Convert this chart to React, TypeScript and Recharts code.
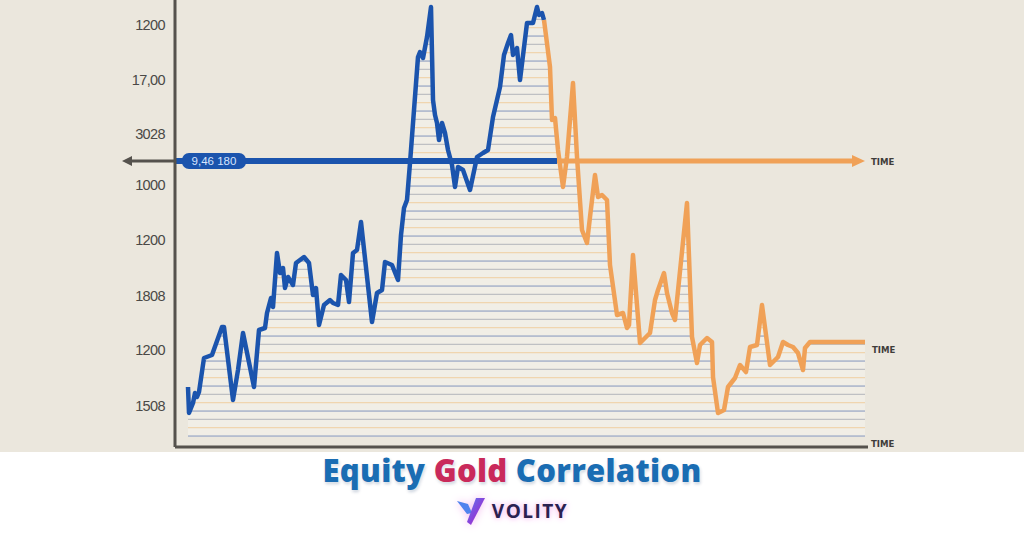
// @ts-nocheck
import React from 'react';
import { ComposedChart, Area, Line, XAxis, YAxis, ReferenceLine, ReferenceDot } from 'recharts';

// equity leg (blue) - time in days, value in index points
const equityDays = [13, 14, 18, 20, 22, 24, 29, 37, 47, 49, 58, 63, 68, 79, 84, 90, 92, 96, 98, 102, 105, 108, 110, 113, 118, 121, 129, 134, 138, 141, 144, 149, 155, 158, 163, 166, 171, 174, 178, 182, 186, 197, 202, 207, 210, 217, 223, 226, 229, 232, 235, 243, 245, 248, 252, 256, 258, 260, 262, 264, 267, 270, 273, 277, 280, 283, 288, 295, 302, 308, 313, 318, 325, 329, 333, 336, 338, 342, 345, 352, 358, 362, 364, 367, 369];
const equityVals = [60, 34, 44, 54, 50, 55, 89, 92, 120, 120, 47, 77, 114, 60, 117, 119, 134, 149, 140, 194, 174, 179, 159, 170, 162, 184, 190, 184, 152, 159, 122, 142, 147, 144, 142, 172, 167, 145, 194, 197, 225, 125, 154, 157, 185, 182, 167, 212, 239, 247, 284, 390, 395, 389, 410, 440, 347, 332, 324, 307, 324, 314, 297, 282, 260, 280, 277, 257, 290, 294, 297, 330, 360, 392, 404, 412, 392, 399, 367, 424, 424, 440, 432, 434, 427];

// gold leg (orange)
const goldDays = [375, 377, 380, 383, 388, 392, 398, 402, 407, 412, 415, 420, 423, 427, 432, 435, 442, 448, 452, 454, 458, 465, 475, 480, 483, 489, 492, 497, 500, 512, 517, 522, 525, 532, 537, 538, 543, 549, 553, 560, 565, 571, 575, 582, 587, 595, 603, 608, 613, 618, 623, 628, 630, 635, 690];
const goldVals = [380, 327, 329, 297, 260, 290, 364, 290, 217, 204, 230, 272, 250, 252, 247, 182, 132, 134, 119, 122, 192, 104, 114, 147, 157, 174, 154, 134, 127, 244, 110, 84, 102, 109, 105, 70, 34, 37, 60, 69, 82, 75, 100, 102, 142, 82, 90, 105, 102, 100, 94, 77, 99, 105, 105];

const yTicks = [422, 367, 313, 262, 207, 151, 97, 41];
const yLabels = ['1200', '17,00', '3028', '1000', '1200', '1808', '1200', '1508'];

const crossLevel = 286;
const crossStart = -53;
const crossSplit = 382;
const crossEnd = 690;
const badgeText = '9,46 180';

const BLUE = '#1b54ad';
const ORANGE = '#f0a157';
const AXIS = '#55524d';
const BG = '#ebe7dd';

const lastEq = equityDays.length - 1;
const data = [
  ...equityDays.map((t, i) => ({ t, all: equityVals[i], equity: equityVals[i], gold: i === lastEq ? equityVals[i] : null })),
  ...goldDays.map((t, i) => ({ t, all: goldVals[i], equity: null, gold: goldVals[i] })),
];

const timeStyle = { fontFamily: '"Liberation Sans Narrow", "DejaVu Sans Condensed", sans-serif', fontSize: 9.5, fontWeight: 700, fill: '#3f3d3a' };

const CrossLine = (props) => {
  const { x1, x2, y1 } = props;
  const px = (t) => x1 + ((t - crossStart) / (crossEnd - crossStart)) * (x2 - x1);
  const p0 = px(0);
  const ps = px(crossSplit);
  const y = y1;
  return (
    <g>
      <line x1={x1 + 8} y1={y} x2={p0} y2={y} stroke={AXIS} strokeWidth={3} />
      <polygon points={`${x1},${y} ${x1 + 10},${y - 5} ${x1 + 10},${y + 5}`} fill={AXIS} />
      <line x1={p0} y1={y} x2={ps} y2={y} stroke={BLUE} strokeWidth={6} />
      <line x1={ps} y1={y} x2={x2 - 10} y2={y} stroke={ORANGE} strokeWidth={5} />
      <polygon points={`${x2},${y} ${x2 - 13},${y - 6} ${x2 - 13},${y + 6}`} fill={ORANGE} />
      <rect x={p0 + 7} y={y - 8} width={64} height={16} rx={7} fill={BLUE} />
      <text x={p0 + 39} y={y + 4} textAnchor="middle" fontSize={11.5} fill="#d6e4ff" fontFamily="Liberation Sans, sans-serif">{badgeText}</text>
      <text x={x2 + 6} y={y + 4} {...timeStyle}>TIME</text>
    </g>
  );
};

const TimeTag = (dx, dy) => (p) => (
  <text x={p.cx + dx} y={p.cy + dy} {...timeStyle}>TIME</text>
);

const EquityGoldChart = () => (
  <ComposedChart width={1024} height={452} data={data} margin={{ top: 0, right: 156, bottom: 4, left: 0 }}>
    <defs>
      <pattern id="stripes" patternUnits="userSpaceOnUse" width={10} height={25}>
        <rect x={0} y={0} width={10} height={25} fill="#f1eee6" />
        <rect x={0} y={2.2} width={10} height={1} fill="#f0cfa2" />
        <rect x={0} y={10.5} width={10} height={1.1} fill="#8e9ec0" />
        <rect x={0} y={18.8} width={10} height={1} fill="#b3b5bb" />
      </pattern>
    </defs>
    <XAxis type="number" dataKey="t" domain={[0, 693]} ticks={[]} tick={false} tickLine={false} height={1} axisLine={{ stroke: AXIS, strokeWidth: 3 }} allowDataOverflow />
    <YAxis
      type="number"
      domain={[0, 447]}
      ticks={yTicks}
      width={175}
      tickSize={0}
      tickMargin={10}
      tickLine={false}
      axisLine={{ stroke: AXIS, strokeWidth: 3 }}
      tick={{ fill: '#4a4946', fontSize: 14.5, fontFamily: 'Liberation Sans, sans-serif', letterSpacing: -0.6 }}
      tickFormatter={(v, i) => yLabels[i]}
      allowDataOverflow
    />
    <Area type="linear" dataKey="all" baseValue={10} fill="url(#stripes)" fillOpacity={1} stroke="none" isAnimationActive={false} />
    <ReferenceLine segment={[{ x: crossStart, y: crossLevel }, { x: crossEnd, y: crossLevel }]} ifOverflow="visible" shape={CrossLine} />
    <Line type="linear" dataKey="equity" stroke={BLUE} strokeWidth={4.5} dot={false} strokeLinejoin="round" isAnimationActive={false} />
    <Line type="linear" dataKey="gold" stroke={ORANGE} strokeWidth={4.5} dot={false} strokeLinejoin="round" isAnimationActive={false} />
    <ReferenceDot x={690} y={98} r={0} ifOverflow="visible" shape={TimeTag(7, 4)} />
    <ReferenceDot x={693} y={0} r={0} ifOverflow="visible" shape={TimeTag(3, 0)} />
  </ComposedChart>
);

const Logo = () => (
  <svg width={30} height={32} viewBox="0 0 30 32" style={{ filter: 'drop-shadow(0 0 4px #f4b9ef)' }}>
    <defs>
      <linearGradient id="lg" x1="0" y1="0" x2="1" y2="1">
        <stop offset="0%" stopColor="#5b7cf0" />
        <stop offset="55%" stopColor="#8b3fd9" />
        <stop offset="100%" stopColor="#e24fb6" />
      </linearGradient>
    </defs>
    <polygon points="1,6 12,9 16,18 11,19" fill="#4f83ee" />
    <polygon points="20,3 29,3 15,30 11,27" fill="url(#lg)" />
  </svg>
);

export default function App() {
  return (
    <div style={{ position: 'absolute', left: 0, top: 0, width: 1024, height: 536, background: '#fff', overflow: 'hidden' }}>
      <div style={{ width: 1024, height: 452, background: BG }}>
        <EquityGoldChart />
      </div>
      <div style={{ position: 'absolute', top: 451, left: 0, width: 1024, textAlign: 'center', fontFamily: '"Open Sans", sans-serif', fontWeight: 800, fontSize: 31, letterSpacing: 0.3, lineHeight: '38px', textShadow: '0 0 4px #fff, 1px 2px 3px rgba(0,40,90,0.25)' }}>
        <span style={{ color: '#1a6db3' }}>Equity </span>
        <span style={{ color: '#c92a5b' }}>Gold </span>
        <span style={{ color: '#1a6db3' }}>Correlation</span>
      </div>
      <div style={{ position: 'absolute', top: 495, left: 0, width: 1024, display: 'flex', justifyContent: 'center', alignItems: 'center', gap: 6 }}>
        <Logo />
        <span style={{ fontFamily: '"Open Sans", sans-serif', fontWeight: 700, fontSize: 19, letterSpacing: 1.5, color: '#2a2250', textShadow: '0 0 5px #f5bdf0, 0 0 8px #f8d0f4' }}>VOLITY</span>
      </div>
    </div>
  );
}
